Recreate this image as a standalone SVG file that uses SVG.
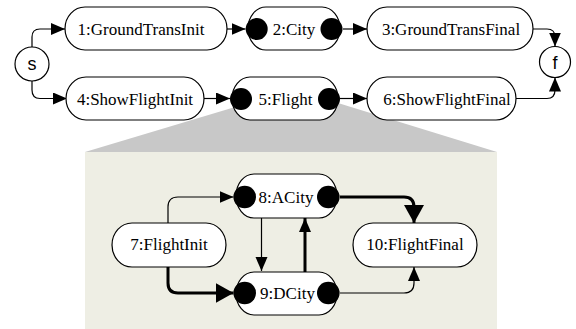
<svg xmlns="http://www.w3.org/2000/svg" width="576" height="329" viewBox="0 0 576 329">
<style>
.pill{fill:#fff;stroke:#000;stroke-width:1.2}
.dot{fill:#000}
.t{font-family:"Liberation Serif","Times New Roman",serif;font-size:17px;fill:#000;text-anchor:middle}
.ts{font-family:"Liberation Sans",Arial,sans-serif;font-size:18px;fill:#000;text-anchor:middle}
.c{fill:none;stroke:#000;stroke-width:1.2}
.k{fill:none;stroke:#000;stroke-width:3}
</style>
<defs>
<marker id="a" markerUnits="userSpaceOnUse" markerWidth="16" markerHeight="14" refX="14" refY="6" orient="auto"><path d="M0,0 L14,6 L0,12 z" fill="#000"/></marker>
<marker id="b" markerUnits="userSpaceOnUse" markerWidth="20" markerHeight="22" refX="18" refY="10" orient="auto"><path d="M0,0 L18,10 L0,20 z" fill="#000"/></marker>
</defs>
<rect x="0" y="0" width="576" height="329" fill="#fff"/>
<polygon points="85,152 262,99 325,99 497,152" fill="#c8c8c8"/>
<rect x="85" y="152" width="412" height="177" fill="#eeeee4"/>
<g id="connectors">
<path class="c" d="M32,47 V37 Q32,29 40,29 H65" marker-end="url(#a)"/>
<path class="c" d="M32,81 V90 Q32,98.5 40,98.5 H67" marker-end="url(#a)"/>
<path class="c" d="M227,29 H245.5" marker-end="url(#a)"/>
<path class="c" d="M343,29 H367" marker-end="url(#a)"/>
<path class="c" d="M533,29 H547 Q555,29 555,37 V46.5" marker-end="url(#a)"/>
<path class="c" d="M204,98.5 H230" marker-end="url(#a)"/>
<path class="c" d="M340,98.5 H367" marker-end="url(#a)"/>
<path class="c" d="M516,98.5 H547 Q555,98.5 555,90 V77.5" marker-end="url(#a)"/>
<path class="c" d="M168,223 V207 Q168,197 178,197 H233.5" marker-end="url(#a)"/>
<path class="k" d="M168,267 V283 Q168,293 178,293 H233.5" marker-end="url(#b)"/>
<path class="c" d="M261.5,218 V271" marker-end="url(#a)"/>
<path class="k" d="M305,272 V218" marker-end="url(#a)"/>
<path class="k" d="M340,197 H404 Q414,197 414,207 V223" marker-end="url(#b)"/>
<path class="c" d="M340,293 H404 Q414,293 414,283 V267" marker-end="url(#a)"/>
</g>
<g id="s"><circle cx="32" cy="64" r="17" fill="#fff" stroke="#000" stroke-width="1.2"/><text class="ts" x="32" y="70">s</text></g>
<g id="f"><circle cx="555" cy="62" r="15.5" fill="#fff" stroke="#000" stroke-width="1.2"/><text class="ts" x="555" y="68.5">f</text></g>
<g id="n1"><rect class="pill" x="65" y="7" width="162" height="43" rx="20" ry="21.5"/><text class="t" x="141" y="34.5">1:GroundTransInit</text></g>
<g id="n2"><rect class="pill" x="248" y="7" width="92" height="43" rx="18" ry="21.5"/><circle class="dot" cx="256.7" cy="29" r="11"/><circle class="dot" cx="331.5" cy="29" r="11"/><text class="t" x="294" y="34.5">2:City</text></g>
<g id="n3"><rect class="pill" x="367" y="7" width="166" height="43" rx="20" ry="21.5"/><text class="t" x="451" y="34.5">3:GroundTransFinal</text></g>
<g id="n4"><rect class="pill" x="66" y="77" width="138" height="43" rx="20" ry="21.5"/><text class="t" x="135" y="104.5">4:ShowFlightInit</text></g>
<g id="n5"><rect class="pill" x="232" y="77" width="106" height="43" rx="18" ry="21.5"/><circle class="dot" cx="241" cy="99" r="11"/><circle class="dot" cx="329" cy="99" r="11"/><text class="t" x="285.5" y="104.5">5:Flight</text></g>
<g id="n6"><rect class="pill" x="367" y="77" width="149" height="43" rx="20" ry="21.5"/><text class="t" x="447" y="104.5">6:ShowFlightFinal</text></g>
<g id="n7"><rect class="pill" x="112" y="223" width="114" height="44" rx="20" ry="22"/><text class="t" x="169" y="250">7:FlightInit</text></g>
<g id="n8"><rect class="pill" x="236" y="174" width="101" height="44" rx="18" ry="22"/><circle class="dot" cx="244.7" cy="197" r="11.3"/><circle class="dot" cx="328.3" cy="197" r="11.3"/><text class="t" x="286" y="202.5">8:ACity</text></g>
<g id="n9"><rect class="pill" x="236" y="272" width="101" height="43" rx="18" ry="21.5"/><circle class="dot" cx="244.7" cy="293" r="11.3"/><circle class="dot" cx="328.3" cy="293" r="11.3"/><text class="t" x="287.5" y="298.5">9:DCity</text></g>
<g id="n10"><rect class="pill" x="353" y="223" width="124" height="44" rx="20" ry="22"/><text class="t" x="415" y="250">10:FlightFinal</text></g>
</svg>
